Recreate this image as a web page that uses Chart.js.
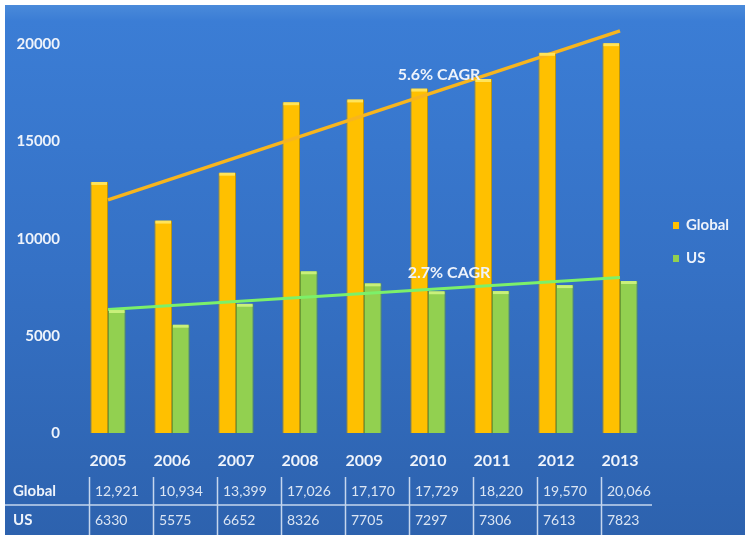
<!DOCTYPE html>
<html lang="en">
<head>
  <meta charset="UTF-8">
  <title>Global vs US</title>
  <script src="https://cdn.jsdelivr.net/npm/chart.js"></script>
  <style>
    body {
      margin: 0;
      background: #ffffff;
    }
    .wrap {
      width: 750px;
      height: 540px;
    }
  </style>
</head>
<body>
  <div class="wrap"><canvas id="chart"></canvas></div>

  <script>
    // data
    const years = ['2005', '2006', '2007', '2008', '2009', '2010', '2011', '2012', '2013'];
    const globalValues = [12921, 10934, 13399, 17026, 17170, 17729, 18220, 19570, 20066];
    const usValues = [6330, 5575, 6652, 8326, 7705, 7297, 7306, 7613, 7823];
    // trend lines: only the two end points
    const globalTrend = [12000, null, null, null, null, null, null, null, 20700];
    const usTrend = [6360, null, null, null, null, null, null, null, 8000];
    const yTicks = [0, 5000, 10000, 15000, 20000];
    const globalCagr = '5.6% CAGR';
    const usCagr = '2.7% CAGR';

    const FONT = 'Lato, "Liberation Sans", sans-serif';
    const TEXT = '#eef3fb';

    // blue panel behind everything
    const panelBg = {
      id: 'panelBg',
      beforeDraw(chart) {
        const ctx = chart.ctx;
        ctx.save();
        ctx.fillStyle = '#ffffff';
        ctx.fillRect(0, 0, chart.width, chart.height);
        const g = ctx.createLinearGradient(0, 5, 0, 535);
        g.addColorStop(0, '#4a8ada');
        g.addColorStop(0.03, '#3b7dd5');
        g.addColorStop(0.5, '#3571c5');
        g.addColorStop(1, '#2d62ae');
        ctx.fillStyle = g;
        ctx.fillRect(5, 5, 740, 530);
        ctx.restore();
      }
    };

    // light caps on bar tops
    const barCaps = {
      id: 'barCaps',
      afterDatasetsDraw(chart) {
        const ctx = chart.ctx;
        const caps = { 2: '#ffe45a', 3: '#c9f07a' };
        ctx.save();
        Object.keys(caps).forEach(i => {
          const meta = chart.getDatasetMeta(+i);
          ctx.fillStyle = caps[i];
          meta.data.forEach(bar => {
            ctx.fillRect(bar.x - bar.width / 2 + 1, bar.y, bar.width - 2, 3);
          });
        });
        ctx.restore();
      }
    };

    // CAGR notes, legend and the table under the axis
    const extras = {
      id: 'extras',
      afterDraw(chart) {
        const ctx = chart.ctx;
        const x = chart.scales.x;
        const y = chart.scales.y;
        ctx.save();

        ctx.fillStyle = TEXT;
        ctx.font = 'bold 16px ' + FONT;
        ctx.textAlign = 'center';
        ctx.textBaseline = 'middle';
        ctx.fillText(globalCagr, x.getPixelForValue(5) + 11, y.getPixelForValue(18460));
        ctx.fillText(usCagr, x.getPixelForValue(5) + 21, y.getPixelForValue(8250));

        // legend
        const items = [['Global', '#ffc000'], ['US', '#92d050']];
        ctx.textAlign = 'left';
        ctx.font = 'bold 15px ' + FONT;
        items.forEach((it, k) => {
          const cy = 225 + k * 33;
          ctx.fillStyle = it[1];
          ctx.fillRect(673, cy - 3, 6, 7);
          ctx.fillStyle = TEXT;
          ctx.fillText(it[0], 686, cy);
        });

        // table
        const rowY = [491, 520];
        ctx.font = 'bold 15px ' + FONT;
        ctx.fillText('Global', 13, rowY[0]);
        ctx.fillText('US', 13, rowY[1]);

        ctx.strokeStyle = 'rgba(235,242,252,0.8)';
        ctx.lineWidth = 1.5;
        ctx.beginPath();
        ctx.moveTo(5, 505);
        ctx.lineTo(x.right, 505);
        years.forEach((yr, i) => {
          const sx = Math.round(x.getPixelForValue(i) - 19) + 0.5;
          ctx.moveTo(sx, 477);
          ctx.lineTo(sx, 535);
        });
        ctx.stroke();

        ctx.font = '14px ' + FONT;
        ctx.fillStyle = '#dbe5f3';
        years.forEach((yr, i) => {
          const sx = x.getPixelForValue(i) - 13;
          ctx.fillText(globalValues[i].toLocaleString('en-US'), sx, rowY[0]);
          ctx.fillText(String(usValues[i]), sx, rowY[1]);
        });
        ctx.restore();
      }
    };

    new Chart(document.getElementById('chart'), {
      type: 'bar',
      data: {
        labels: years,
        datasets: [
          {
            type: 'line',
            label: 'Global trend',
            data: globalTrend,
            borderColor: '#f7b51e',
            borderWidth: 3.5,
            pointRadius: 0,
            spanGaps: true,
            order: 0
          },
          {
            type: 'line',
            label: 'US trend',
            data: usTrend,
            borderColor: '#7cf06a',
            borderWidth: 3,
            pointRadius: 0,
            spanGaps: true,
            order: 0
          },
          {
            label: 'Global',
            data: globalValues,
            backgroundColor: '#ffc000',
            borderColor: '#b89412',
            borderWidth: 1,
            categoryPercentage: 0.55,
            barPercentage: 1,
            order: 1
          },
          {
            label: 'US',
            data: usValues,
            backgroundColor: '#92d050',
            borderColor: '#6a9c36',
            borderWidth: 1,
            categoryPercentage: 0.55,
            barPercentage: 1,
            order: 1
          }
        ]
      },
      options: {
        responsive: true,
        maintainAspectRatio: false,
        animation: false,
        layout: {
          padding: { left: 5, right: 98, top: 5, bottom: 67 }
        },
        plugins: {
          legend: { display: false },
          tooltip: { enabled: false }
        },
        scales: {
          x: {
            grid: { display: false, drawTicks: false },
            border: { display: false },
            ticks: {
              color: TEXT,
              font: { family: FONT, size: 16, weight: 'bold' },
              padding: 18
            },
            afterFit(scale) { scale.height = 40; }
          },
          y: {
            min: 0,
            max: 21000,
            grid: { display: false, drawTicks: false },
            border: { display: false },
            ticks: {
              stepSize: 5000,
              color: TEXT,
              font: { family: FONT, size: 15, weight: 'bold' },
              padding: 16,
              callback: v => String(v)
            },
            afterBuildTicks(scale) {
              scale.ticks = yTicks.map(v => ({ value: v }));
            },
            afterFit(scale) { scale.width = 71; }
          }
        }
      },
      plugins: [panelBg, barCaps, extras]
    });
  </script>
</body>
</html>
